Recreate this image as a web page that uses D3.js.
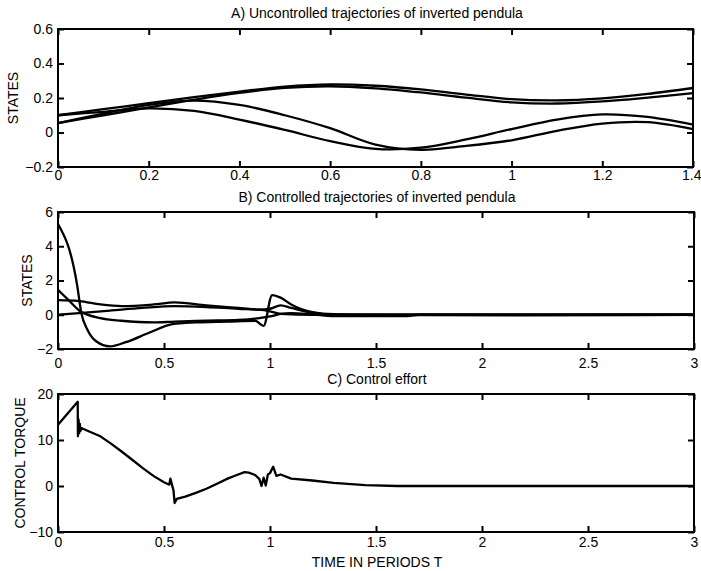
<!DOCTYPE html>
<html><head><meta charset="utf-8">
<script src="https://cdn.jsdelivr.net/npm/d3@7/dist/d3.min.js"></script>
<style>
body{margin:0;background:#fff}
text{font-family:"Liberation Sans",Arial,Helvetica,sans-serif;fill:#000}
</style>
</head><body>
<svg id="chart" width="701" height="571"></svg>
<script>
// ---------- DATA ----------
// Panel A: uncontrolled trajectories
const tA = [0, 0.1, 0.2, 0.3, 0.4, 0.5, 0.6, 0.7, 0.8, 0.9, 1.0, 1.1, 1.2, 1.3, 1.4];
const aU1 = [0.10, 0.135, 0.17, 0.205, 0.237, 0.266, 0.279, 0.271, 0.250, 0.220, 0.193, 0.186, 0.198, 0.224, 0.258];
const aU2 = [0.055, 0.10, 0.145, 0.19, 0.230, 0.259, 0.268, 0.256, 0.232, 0.202, 0.175, 0.168, 0.180, 0.202, 0.228];
const aL1 = [0.10, 0.12, 0.14, 0.125, 0.075, 0.015, -0.05, -0.095, -0.088, -0.04, 0.02, 0.075, 0.105, 0.09, 0.045];
const aL2 = [0.055, 0.11, 0.16, 0.185, 0.16, 0.10, 0.025, -0.07, -0.10, -0.078, -0.045, 0.01, 0.052, 0.06, 0.02];

// Panel B: controlled trajectories
const tB1 = [0, 0.09, 0.11, 0.14, 0.18, 0.245, 0.32, 0.43, 0.54, 0.65, 0.8, 0.93, 0.97, 1.01, 1.05, 1.1, 1.2, 1.3, 1.5, 3];
const b1  = [5.3, 1.75, 0.1, -0.9, -1.55, -1.85, -1.6, -1.05, -0.55, -0.45, -0.4, -0.35, -0.65, 1.15, 1.0, 0.6, 0.15, 0.03, 0, 0];
const tB2 = [0, 0.05, 0.1, 0.2, 0.3, 0.45, 0.55, 0.7, 0.85, 0.95, 1.0, 1.05, 1.1, 1.2, 1.3, 1.65, 1.7, 3];
const b2  = [1.45, 0.85, 0.25, -0.2, -0.35, -0.45, -0.4, -0.35, -0.3, -0.2, -0.1, 0.05, 0.1, 0.02, -0.08, -0.08, 0, 0];
const tB3 = [0, 0.1, 0.2, 0.3, 0.45, 0.55, 0.7, 0.85, 0.95, 1.0, 1.05, 1.1, 1.2, 1.3, 2.2, 3];
const b3  = [0.85, 0.8, 0.6, 0.5, 0.6, 0.72, 0.55, 0.4, 0.3, 0.35, 0.55, 0.4, 0.12, 0, -0.03, 0];
const tB4 = [0, 0.1, 0.25, 0.4, 0.55, 0.7, 0.85, 0.95, 1.0, 1.05, 1.2, 3];
const b4  = [0, 0.1, 0.25, 0.4, 0.5, 0.45, 0.35, 0.3, 0.2, 0.05, 0, 0];

// Panel C: control effort
const tC = [0, 0.093, 0.094, 0.097, 0.1, 0.103, 0.106, 0.11, 0.15, 0.2, 0.25, 0.3, 0.35, 0.4, 0.45, 0.5, 0.515, 0.525, 0.53, 0.545, 0.55, 0.56, 0.6, 0.65, 0.7, 0.75, 0.8, 0.85, 0.88, 0.9, 0.93, 0.95, 0.96, 0.97, 0.98, 0.99, 1.0, 1.015, 1.03, 1.05, 1.1, 1.2, 1.3, 1.45, 1.6, 3];
const cTorque = [13.3, 18.3, 10.8, 14.5, 11.5, 13.5, 12.0, 12.6, 11.8, 10.8, 9.2, 7.5, 5.7, 3.9, 2.2, 0.8, 0.5, 0.3, 1.6, -1.0, -3.7, -2.8, -2.3, -1.5, -0.6, 0.5, 1.6, 2.5, 3.0, 2.9, 2.4, 1.5, 0, 1.8, 0.1, 2.5, 2.8, 4.2, 2.2, 2.5, 1.6, 1.2, 0.7, 0.2, 0, 0];

// Ticks
const xTicksA = [0, 0.2, 0.4, 0.6, 0.8, 1.0, 1.2, 1.4];
const yTicksA = [-0.2, 0, 0.2, 0.4, 0.6];
const xTicksBC = [0, 0.5, 1, 1.5, 2, 2.5, 3];
const yTicksB = [-2, 0, 2, 4, 6];
const yTicksC = [-10, 0, 10, 20];

const titles = ["A) Uncontrolled trajectories of inverted pendula",
                "B) Controlled trajectories of inverted pendula",
                "C) Control effort"];
const yLabels = ["STATES", "STATES", "CONTROL TORQUE"];
const xLabel = "TIME IN PERIODS T";

// ---------- DRAW ----------
const svg = d3.select("#chart");
const fmt = d => String(d);

function panel(o) {
  const x = d3.scaleLinear().domain(o.xDom).range([o.left, o.right]);
  const y = d3.scaleLinear().domain(o.yDom).range([o.bottom, o.top]);
  const g = svg.append("g");

  const line = d3.line().x(d => x(d[0])).y(d => y(d[1])).curve(o.curve);
  o.series.forEach(s => {
    const pts = s[0].map((t, i) => [t, s[1][i]]);
    g.append("path").attr("d", line(pts))
      .attr("fill", "none").attr("stroke", "#000")
      .attr("stroke-width", 2.3).attr("stroke-linejoin", "round");
  });

  const tl = 6;
  const ab = g.append("g").attr("transform", `translate(0,${o.bottom})`)
    .call(d3.axisBottom(x).tickValues(o.xTicks).tickSize(-tl).tickPadding(o.xPad).tickFormat(fmt));
  const at = g.append("g").attr("transform", `translate(0,${o.top})`)
    .call(d3.axisTop(x).tickValues(o.xTicks).tickSize(-tl).tickFormat(""));
  const al = g.append("g").attr("transform", `translate(${o.left},0)`)
    .call(d3.axisLeft(y).tickValues(o.yTicks).tickSize(-tl).tickPadding(5).tickFormat(fmt));
  const ar = g.append("g").attr("transform", `translate(${o.right},0)`)
    .call(d3.axisRight(y).tickValues(o.yTicks).tickSize(-tl).tickFormat(""));
  [ab, at, al, ar].forEach(a => {
    a.select(".domain").remove();
    a.selectAll("line").attr("stroke", "#000").attr("stroke-width", 2);
    a.selectAll("text").attr("font-size", 14).attr("fill", "#000")
      .attr("font-family", '"Liberation Sans", Arial, sans-serif');
  });
  al.selectAll("text").text(d => d < 0 ? "\u2212" + Math.abs(d) : String(d));
  // keep a wide last x label inside the picture
  ab.selectAll(".tick text").filter(d => String(d).length > 1 && x(d) + 12 > 701)
    .attr("text-anchor", "end").attr("dx", 8);

  g.append("rect").attr("x", o.left).attr("y", o.top)
    .attr("width", o.right - o.left).attr("height", o.bottom - o.top)
    .attr("fill", "none").attr("stroke", "#000").attr("stroke-width", 2);

  g.append("text").attr("x", 377).attr("y", o.titleY).attr("text-anchor", "middle")
    .attr("font-size", 14).text(o.title);
  g.append("text").attr("transform", `translate(${o.yLabX},${(o.top + o.bottom) / 2}) rotate(-90)`)
    .attr("text-anchor", "middle").attr("font-size", 14).text(o.yLabel);
}

panel({ xDom: [0, 1.4], yDom: [-0.2, 0.6], left: 58, right: 693, top: 29, bottom: 167,
  xTicks: xTicksA, yTicks: yTicksA, xPad: 3, curve: d3.curveCatmullRom,
  series: [[tA, aU1], [tA, aU2], [tA, aL1], [tA, aL2]],
  title: titles[0], titleY: 18, yLabel: yLabels[0], yLabX: 18 });

panel({ xDom: [0, 3], yDom: [-2, 6], left: 58, right: 694, top: 212, bottom: 349,
  xTicks: xTicksBC, yTicks: yTicksB, xPad: 9, curve: d3.curveMonotoneX,
  series: [[tB1, b1], [tB2, b2], [tB3, b3], [tB4, b4]],
  title: titles[1], titleY: 202, yLabel: yLabels[1], yLabX: 32 });

panel({ xDom: [0, 3], yDom: [-10, 20], left: 58, right: 694, top: 394, bottom: 532,
  xTicks: xTicksBC, yTicks: yTicksC, xPad: 5, curve: d3.curveLinear,
  series: [[tC, cTorque]],
  title: titles[2], titleY: 384, yLabel: yLabels[2], yLabX: 25 });

svg.append("text").attr("x", 377).attr("y", 567).attr("text-anchor", "middle")
  .attr("font-size", 14).text(xLabel);
</script>
</body></html>
